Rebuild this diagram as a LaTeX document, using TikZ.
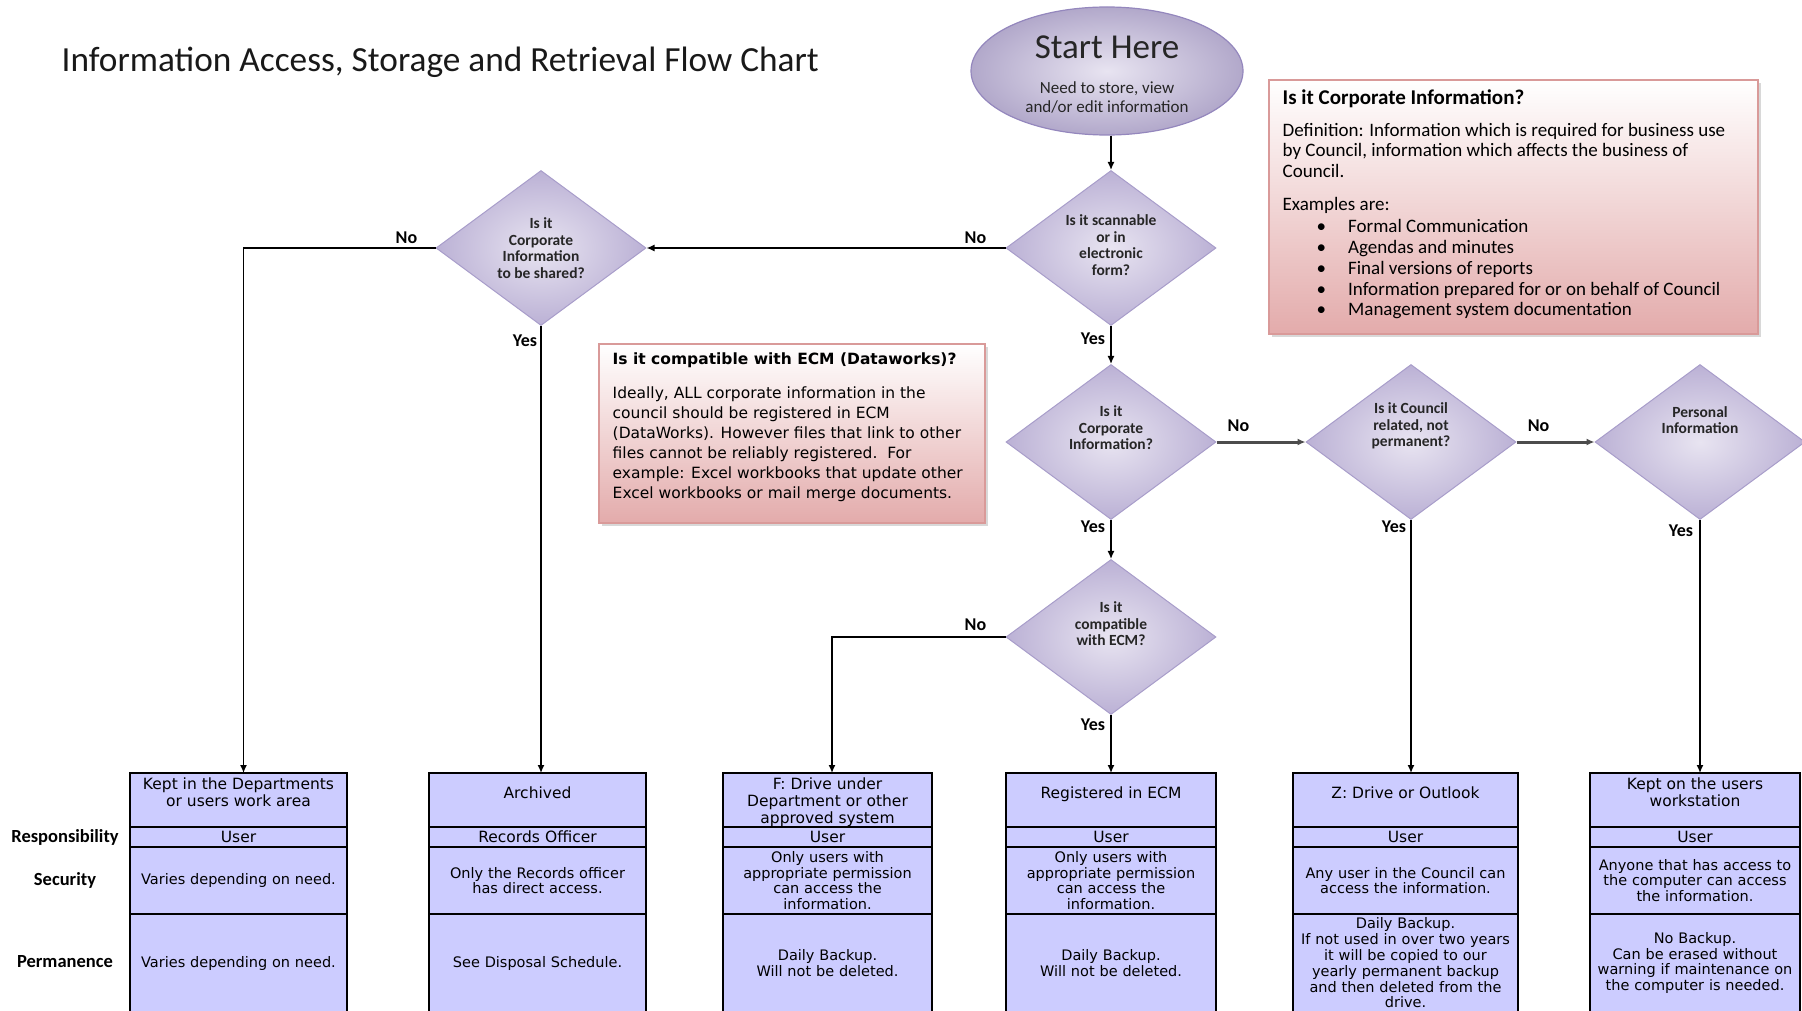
\documentclass[tikz,border=0pt]{standalone}
\usepackage{fontspec}
\setmainfont{Carlito}
\newfontfamily\verdana{DejaVu Sans}
\usetikzlibrary{positioning,shapes.geometric,arrows.meta,shadows}

\definecolor{lilaclight}{HTML}{E8E4F1}
\definecolor{lilacdark}{HTML}{BBB1D5}
\definecolor{lilacline}{HTML}{A89DCA}
\definecolor{startline}{HTML}{9487BD}
\definecolor{rosy}{HTML}{E3ABAB}
\definecolor{rosyline}{HTML}{D99A99}
\definecolor{periwinkle}{HTML}{CCCCFF}

\newcommand{\cellfont}{\verdana\fontsize{14.5}{15.8}\selectfont}
\newcommand{\headfont}{\verdana\fontsize{15.5}{17}\selectfont}
% texto do cabeçalho alinhado em cima
\newcommand{\toptext}[2]{\parbox[t][48pt][t]{#1}{\centering\vspace{2pt}#2}}

\begin{document}
\begin{tikzpicture}[x=1pt, y=-1pt, > = {Latex[length=8pt, width=7pt]}, line width=1.4pt]
  % Estilos
  \tikzstyle{decision}=[diamond, draw=lilacline, line width=1pt, inner sep=0pt, minimum width=210pt, minimum height=155pt, shading=radial, inner color=lilaclight, outer color=lilacdark]
  \tikzstyle{qtext}=[align=center, inner sep=0pt, text=black!85, font=\fontsize{15.5}{16.5}\selectfont\bfseries]
  \tikzstyle{answer}=[inner sep=0pt, font=\fontsize{18}{20}\selectfont\bfseries]
  \tikzstyle{note}=[rectangle, draw=rosyline, line width=1.2pt, top color=white, bottom color=rosy, anchor=north west, outer sep=0pt, drop shadow={shadow xshift=3pt, shadow yshift=-3pt, fill=black!30}]
  \tikzstyle{box}=[rectangle, draw=black, line width=1.8pt, fill=periwinkle, outer sep=0pt, inner xsep=4pt, inner ysep=1pt]
  \tikzstyle{cell}=[box, align=center, font=\cellfont]
  \tikzstyle{headcell}=[box, anchor=north, minimum height=54pt, font=\headfont]
  \tikzstyle{respcell}=[cell, minimum height=20pt, font=\headfont]
  \tikzstyle{seccell}=[cell, minimum height=67pt]
  \tikzstyle{permcell}=[cell, minimum height=98pt]
  \tikzstyle{rowlabel}=[inner sep=0pt, font=\fontsize{18.5}{20}\selectfont\bfseries]
  \tikzstyle{thickflow}=[line width=3pt, draw=black!70]

  \useasboundingbox (0,0) rectangle (1802,1011);
  \clip (0,0) rectangle (1802,1011);

  % Título
  \node[anchor=west, inner sep=0pt, text=black!90, font=\fontsize{35.3}{42}\selectfont] (title) at (61,62) {Information Access, Storage and Retrieval Flow Chart};

  % Início
  \node[ellipse, draw=startline, line width=1.2pt, minimum width=272pt, minimum height=128pt, shading=radial, inner color=lilaclight, outer color=lilacdark!95!black, align=center, inner sep=0pt, text=black!85, font=\fontsize{17}{19}\selectfont, text height=83pt] (start) at (1107,71) {{\fontsize{35}{40}\selectfont Start Here}\\[16pt]Need to store, view\\and/or edit information};

  % Decisões
  \node[decision] (scan) at (1111,248) {};
  \node[decision] (shared) at (541,248) {};
  \node[decision] (corp) at (1111,442) {};
  \node[decision] (council) at (1411,442) {};
  \node[decision] (personal) at (1700,442) {};
  \node[decision] (ecm) at (1111,637) {};

  \node[qtext] (scan q) at ([yshift=3pt]scan.center) {Is it scannable\\or in\\electronic\\form?};
  \node[qtext] (shared q) at (shared.center) {Is it\\Corporate\\Information\\to be shared?};
  \node[qtext] (corp q) at ([yshift=14pt]corp.center) {Is it\\Corporate\\Information?};
  \node[qtext] (council q) at ([yshift=16pt]council.center) {Is it Council\\related, not\\permanent?};
  \node[qtext] (personal q) at ([yshift=22pt]personal.center) {Personal\\Information};
  \node[qtext] (ecm q) at ([yshift=13pt]ecm.center) {Is it\\compatible\\with ECM?};

  % Notas
  \node[note, minimum width=489pt, minimum height=254pt] (corp note) at (1269,80) {};
  \node[anchor=north west, inner sep=0pt, align=left, font=\fontsize{19}{20.7}\selectfont] (corp note text) at ([shift={(13,9)}]corp note.north west) {{\fontsize{21}{22}\selectfont\bfseries Is it Corporate Information?}\\[11pt]
    Definition: Information which is required for business use\\
    by Council, information which affects the business of\\
    Council.\\[12.5pt]
    Examples are:\\[1.5pt]
    \hspace*{34pt}\textbullet\hspace{22pt}Formal Communication\\
    \hspace*{34pt}\textbullet\hspace{22pt}Agendas and minutes\\
    \hspace*{34pt}\textbullet\hspace{22pt}Final versions of reports\\
    \hspace*{34pt}\textbullet\hspace{22pt}Information prepared for or on behalf of Council\\
    \hspace*{34pt}\textbullet\hspace{22pt}Management system documentation};

  \node[note, minimum width=386pt, minimum height=179pt] (ecm note) at (599,344) {};
  \node[anchor=north west, inner sep=0pt, align=left, font=\verdana\fontsize{15.5}{20}\selectfont] (ecm note text) at ([shift={(13,8)}]ecm note.north west) {{\bfseries Is it compatible with ECM (Dataworks)?}\\[14.5pt]
    Ideally, ALL corporate information in the\\
    council should be registered in ECM\\
    (DataWorks). However files that link to other\\
    files cannot be reliably registered.\ \ For\\
    example: Excel workbooks that update other\\
    Excel workbooks or mail merge documents.};

  % Destinos
  \node[headcell, minimum width=217pt] (kept) at (238.5,773) {\toptext{209pt}{Kept in the Departments\\or users work area}};
  \node[respcell, text width=209pt, below=0pt of kept] (kept resp) {User};
  \node[seccell, text width=209pt, below=0pt of kept resp] (kept sec) {Varies depending on need.};
  \node[permcell, text width=209pt, below=0pt of kept sec] (kept perm) {Varies depending on need.};

  \node[headcell, minimum width=217pt] (archived) at (537.5,773) {\toptext{209pt}{\vspace{9pt}Archived}};
  \node[respcell, text width=209pt, below=0pt of archived] (archived resp) {Records Officer};
  \node[seccell, text width=209pt, below=0pt of archived resp] (archived sec) {Only the Records officer\\has direct access.};
  \node[permcell, text width=209pt, below=0pt of archived sec] (archived perm) {See Disposal Schedule.};

  \node[headcell, minimum width=209pt] (fdrive) at (827.5,773) {\toptext{201pt}{F: Drive under\\Department or other\\approved system}};
  \node[respcell, text width=201pt, below=0pt of fdrive] (fdrive resp) {User};
  \node[seccell, text width=201pt, below=0pt of fdrive resp] (fdrive sec) {Only users with\\appropriate permission\\can access the\\information.};
  \node[permcell, text width=201pt, below=0pt of fdrive sec] (fdrive perm) {Daily Backup.\\Will not be deleted.};

  \node[headcell, minimum width=210pt] (registered) at (1111,773) {\toptext{202pt}{\vspace{9pt}Registered in ECM}};
  \node[respcell, text width=202pt, below=0pt of registered] (registered resp) {User};
  \node[seccell, text width=202pt, below=0pt of registered resp] (registered sec) {Only users with\\appropriate permission\\can access the\\information.};
  \node[permcell, text width=202pt, below=0pt of registered sec] (registered perm) {Daily Backup.\\Will not be deleted.};

  \node[headcell, minimum width=225pt] (zdrive) at (1405.5,773) {\toptext{217pt}{\vspace{9pt}Z: Drive or Outlook}};
  \node[respcell, text width=217pt, below=0pt of zdrive] (zdrive resp) {User};
  \node[seccell, text width=217pt, below=0pt of zdrive resp] (zdrive sec) {Any user in the Council can\\access the information.};
  \node[permcell, text width=217pt, below=0pt of zdrive sec] (zdrive perm) {Daily Backup.\\If not used in over two years\\it will be copied to our\\yearly permanent backup\\and then deleted from the\\drive.};

  \node[headcell, minimum width=210pt] (workstation) at (1695,773) {\toptext{202pt}{Kept on the users\\workstation}};
  \node[respcell, text width=202pt, below=0pt of workstation] (workstation resp) {User};
  \node[seccell, text width=202pt, below=0pt of workstation resp] (workstation sec) {Anyone that has access to\\the computer can access\\the information.};
  \node[permcell, text width=202pt, below=0pt of workstation sec] (workstation perm) {No Backup.\\Can be erased without\\warning if maintenance on\\the computer is needed.};

  \node[rowlabel] (resp label) at (65,837) {Responsibility};
  \node[rowlabel] (sec label) at (65,880) {Security};
  \node[rowlabel] (perm label) at (65,962) {Permanence};

  % Ligações
  \draw[->] (start.south -| scan.north) -- (scan);
  \draw[->] (scan) -- (shared);
  \draw[->] (shared) -| ([xshift=5pt]kept.north);
  \draw[->] (shared) -- (shared |- archived.north);
  \draw[->] (scan) -- (corp);
  \draw[->, thickflow] (corp) -- (council);
  \draw[->, thickflow] (council) -- (personal);
  \draw[->] (corp) -- (ecm);
  \draw[->] (ecm) -| ([xshift=4.5pt]fdrive.north);
  \draw[->] (ecm) -- (registered);
  \draw[->] (council) -- (council |- zdrive.north);
  \draw[->] (personal) -- (personal |- workstation.north);

  % Respostas
  \node[answer] (scan no) at ([shift={(-30,-10)}]scan.west) {No};
  \node[answer] (shared no) at ([shift={(-29,-10)}]shared.west) {No};
  \node[answer] (shared yes) at ([shift={(-16,15)}]shared.south) {Yes};
  \node[answer] (scan yes) at ([shift={(-18,13)}]scan.south) {Yes};
  \node[answer] (corp no) at ([shift={(22,-16)}]corp.east) {No};
  \node[answer] (council no) at ([shift={(22,-16)}]council.east) {No};
  \node[answer] (corp yes) at ([shift={(-18,7)}]corp.south) {Yes};
  \node[answer] (ecm no) at ([shift={(-30,-12)}]ecm.west) {No};
  \node[answer] (ecm yes) at ([shift={(-18,10)}]ecm.south) {Yes};
  \node[answer] (council yes) at ([shift={(-17,7)}]council.south) {Yes};
  \node[answer] (personal yes) at ([shift={(-19,11)}]personal.south) {Yes};
\end{tikzpicture}
\end{document}
